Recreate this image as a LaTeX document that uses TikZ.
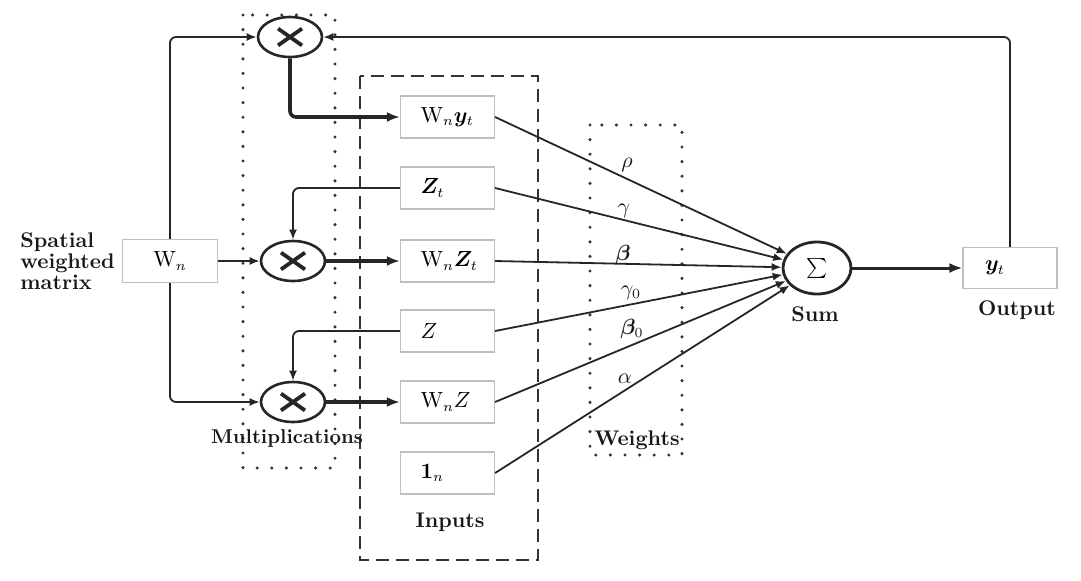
\documentclass[tikz,border=0pt]{standalone}
\usepackage{bm}
\usetikzlibrary{arrows.meta,shapes.geometric}
\begin{document}
\begin{tikzpicture}[x=0.5pt,y=-0.5pt,
  ink/.style={draw=black!85},
  mult/.style={ellipse, ink, line width=1.3pt, minimum width=32pt, minimum height=20pt, inner sep=0pt,
    path picture={\draw[line width=1.9pt, black!85]
      ([shift={(-6pt,-4.2pt)}]path picture bounding box.center) -- ([shift={(6pt,4.2pt)}]path picture bounding box.center)
      ([shift={(-6pt,4.2pt)}]path picture bounding box.center) -- ([shift={(6pt,-4.2pt)}]path picture bounding box.center);}},
  sumc/.style={ellipse, ink, line width=1.4pt, minimum width=34pt, minimum height=26pt, inner sep=0pt},
  inbox/.style={draw=black!25, line width=0.6pt, minimum height=21pt, text width=27pt, inner xsep=10pt, align=left, font=\fontsize{10.6}{12}\selectfont},
  wbox/.style={draw=black!25, line width=0.6pt, minimum height=21.5pt, minimum width=47.5pt, font=\fontsize{10.6}{12}\selectfont},
  conn/.style={draw=black!85, line width=0.9pt, -{Latex[length=5pt,width=4pt]}},
  thickconn/.style={draw=black!85, line width=1.8pt, -{Latex[length=6.5pt,width=5pt]}},
  dotbox/.style={draw=black!80, line width=1.7pt, line cap=round, dash pattern=on 0pt off 7.3pt},
  dashbox/.style={draw=black!80, line width=1.3pt, dash pattern=on 6.5pt off 3.5pt},
  lbl/.style={font=\fontsize{10.6}{12}\selectfont\bfseries, text=black!90, inner sep=1pt},
  wl/.style={inner sep=0.5pt, text=black!90, font=\fontsize{10.6}{12}\selectfont}
]
\useasboundingbox (0,0) rectangle (1081,580);

% frames
\draw[dotbox] (243,15) rectangle (335,468);
\draw[dashbox] (360,76) rectangle (538,560);
\draw[dotbox] (590,125) rectangle (682,455);

% multiplication nodes
\node[mult] (m1) at (290,37) {};
\node[mult] (m2) at (293,261) {};
\node[mult] (m3) at (293,402) {};

% spatial weighted matrix
\node[wbox] (wn) at (170,261) {$\mathrm{W}_n$};
\node[lbl, align=left, anchor=west] (swm) at (18,261) {Spatial\\[-1.6pt]weighted\\[-1.6pt]matrix};

% inputs
\node[inbox] (b1) at (447.5,117) {$\mathrm{W}_n\bm{y}_t$};
\node[inbox] (b2) at (447.5,188) {$\bm{Z}_t$};
\node[inbox] (b3) at (447.5,261) {$\mathrm{W}_n\bm{Z}_t$};
\node[inbox] (b4) at (447.5,331) {$Z$};
\node[inbox] (b5) at (447.5,402) {$\mathrm{W}_nZ$};
\node[inbox] (b6) at (447.5,473) {$\mathbf{1}_n$};

% sum and output
\node[sumc] (sum) at (817,268) {\Large$\sum$};
\node[wbox, minimum width=47pt, minimum height=20.5pt, text width=25pt, inner xsep=11pt, align=left] (out) at (1010,268) {$\bm{y}_t$};

% labels
\node[lbl, font=\fontsize{10}{12}\selectfont\bfseries] (lmul) at (287,438) {Multiplications};
\node[lbl] (linp) at (450,522) {Inputs};
\node[lbl] (lwei) at (637,440) {Weights};
\node[lbl] (lsum) at (815,314) {Sum};
\node[lbl] (lout) at (1017,310) {Output};

% weight labels
\node[wl] (wrho) at (627,165) {$\rho$};
\node[wl] (wgam) at (624,211) {$\gamma$};
\node[wl] (wbet) at (623,255) {$\bm{\beta}$};
\node[wl] (wgam0) at (631,293) {$\gamma_0$};
\node[wl] (wbet0) at (632,329) {$\bm{\beta}_0$};
\node[wl] (walp) at (625,379) {$\alpha$};

% connectors
\draw[conn, rounded corners=3pt] (wn.north) |- (m1.west);
\draw[conn, rounded corners=3pt] (wn.south) |- (m3.west);
\draw[conn] (wn.east) -- (m2.west);
\draw[thickconn, rounded corners=3pt] (m1.south) |- (b1.west);
\draw[conn, rounded corners=3pt] (b2.west) -| (m2.north);
\draw[conn, rounded corners=3pt] (b4.west) -| (m3.north);
\draw[thickconn] (m2.east) -- (b3.west);
\draw[thickconn] (m3.east) -- (b5.west);

\draw[conn] (b1.east) -- (sum);
\draw[conn] (b2.east) -- (sum);
\draw[conn] (b3.east) -- (sum);
\draw[conn] (b4.east) -- (sum);
\draw[conn] (b5.east) -- (sum);
\draw[conn] (b6.east) -- (sum);

\draw[thickconn, line width=1.5pt] (sum.east) -- (out.west);
\draw[conn, rounded corners=3pt] (out.north) |- (m1.east);
\end{tikzpicture}
\end{document}
